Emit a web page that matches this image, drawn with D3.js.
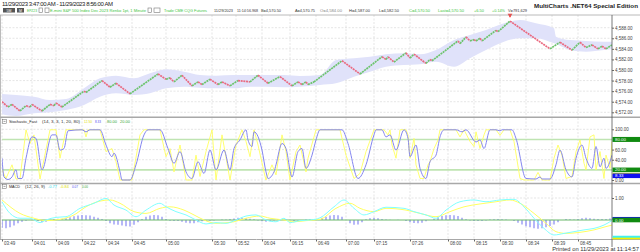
<!DOCTYPE html>
<html><head><meta charset="utf-8">
<script src="https://cdn.jsdelivr.net/npm/d3@7"></script>
<style>body{margin:0;background:#fff}svg{display:block}text{font-family:"Liberation Sans",Arial,sans-serif}</style>
</head><body><svg id="c" width="640" height="252"></svg>
<script>
// ---------- DATA ----------
const tickIdx = [0,15,27,40,52,65,82,105,117,130,144,157,172,186,204,223,236,249,262,275,288];
const tickLabels = ["03:49","04:01","04:09","04:22","04:34","04:45","05:00","05:30","05:52","06:04","06:15","06:49","07:00","07:15","07:26","08:00","08:15","08:30","08:34","08:39","08:45"];
const priceTicks = [4572,4574,4576,4578,4580,4582,4584,4586,4588];
// renko turning points: bar index, price
const renkoIdx = [0,3,5,9,12,14,15,20,24,26,27,30,41,42,50,54,57,64,78,82,84,86,90,95,98,100,104,108,110,114,118,124,128,133,139,145,148,150,152,153,156,170,179,190,192,193,196,202,204,206,212,214,215,228,229,232,234,236,237,239,240,247,248,254,274,279,285,289,292,295,298,300,302,305];
const renkoPx = [4574,4573,4573.5,4572.25,4573.25,4573,4573.5,4572.25,4573.5,4573.25,4573.75,4573,4576,4575.75,4578,4576.75,4577.5,4575.5,4579.25,4578.25,4578.5,4577.75,4579,4577,4577.75,4577.25,4578.25,4577.25,4577.75,4577,4578,4577.75,4579,4577.5,4578.75,4577,4577.75,4577.25,4577.75,4577.25,4577.75,4581.75,4579.25,4582.5,4582,4582.5,4581.5,4583.25,4582.25,4583,4581.25,4582,4581.75,4585.5,4585,4586.25,4585.5,4585.75,4585.5,4586,4585.5,4587.5,4587.25,4589.25,4584,4585.25,4583.75,4585.25,4584.25,4584.75,4584,4584.5,4584,4584.75];
// envelope band
const bandIdx = [0,7,16,24,32,41,49,57,66,74,82,91,99,107,116,124,132,141,149,159,167,176,184,192,201,209,217,226,234,242,251,259,267,276,277,284,292,301,305];
const bandUpper = [4575.47,4575.28,4574.96,4574.34,4574.5,4576.54,4578.43,4578.93,4578.43,4579.38,4580.14,4579.68,4579.06,4578.93,4579.06,4579.06,4579.06,4579.06,4578.87,4579.06,4581.89,4582.22,4582.52,4582.97,4583.16,4582.97,4583.78,4585.67,4586.62,4587.57,4588.83,4589.46,4588.83,4587.89,4586.3,4585.67,4585.49,4585.35,4585.35];
const bandLower = [4571.63,4571.3,4571.82,4572.0,4572.44,4573.39,4574.96,4575.6,4575.28,4575.6,4576.54,4576.85,4576.66,4576.54,4576.54,4576.85,4576.85,4576.73,4576.85,4577.17,4577.49,4578.74,4579.68,4580.63,4580.95,4581.08,4581.57,4580.63,4582.22,4583.78,4585.35,4586.0,4586.0,4585.05,4584.92,4583.78,4583.46,4583.78,4583.97];
// stochastic %D (blue)
const stoDIdx = [0,1,3,5,7,8,10,12,15,17,20,25,27,29,31,33,40,42,44,49,52,55,56,59,60,64,67,71,73,79,83,86,89,92,95,98,101,104,107,111,114,116,119,122,123,125,126,130,132,133,136,137,140,142,145,148,150,152,155,157,159,170,173,178,182,186,187,190,192,194,197,201,203,204,207,209,212,214,217,219,221,227,230,232,237,239,241,244,247,249,250,255,257,262,267,269,270,274,277,279,282,285,287,290,292,295,297,299,301,302,305];
const stoD = [43,6,1,6,20,3,3,43,85,82,20,89,89,59,62,97,99,95,99,99,69,46,53,16,0,0,30,89,99,99,62,33,56,16,3,36,13,59,20,59,20,62,79,99,79,66,95,59,16,3,16,30,72,62,6,56,62,23,49,79,99,99,72,3,30,89,99,99,85,89,59,99,82,46,69,23,3,36,49,85,99,99,95,99,75,79,62,99,99,97,99,99,82,3,2,6,2,2,30,59,20,6,43,69,43,23,66,26,43,23,49];
// stochastic %K (yellow)
const stoKIdx = [0,2,5,7,9,12,14,16,19,24,27,29,32,41,42,43,49,52,55,57,59,65,69,71,79,82,84,86,89,92,95,97,99,102,105,107,110,114,117,120,122,124,126,128,131,132,135,137,140,142,144,147,149,152,153,157,169,172,176,179,182,186,191,193,194,195,197,199,202,203,204,206,207,209,211,213,214,216,218,219,227,229,231,234,236,237,239,241,242,247,249,251,254,256,259,261,266,268,270,274,276,278,280,282,285,287,289,291,292,294,296,297,299,301,302,304,305];
const stoK = [20,3,30,2,3,99,72,89,2,99,99,43,99,99,85,99,99,56,62,36,0,0,89,99,99,46,62,16,69,0,0,49,7,56,99,0,89,0,69,99,76,46,99,69,16,0,30,10,89,56,0,56,69,16,43,99,99,49,3,13,56,99,99,89,99,69,43,99,99,89,43,82,30,3,3,30,36,62,79,99,99,85,99,76,66,95,62,89,99,99,88,99,99,76,3,0,0,15,0,0,43,69,49,3,7,56,79,33,20,85,89,20,56,3,49,23,76];
// MACD line (cyan) and signal (yellow)
const macdIdx = [0,4,9,14,19,22,27,32,39,46,52,56,62,67,72,79,82,87,92,97,102,107,112,117,122,127,132,137,141,144,149,154,159,166,171,176,181,186,192,201,206,212,217,222,229,236,242,249,256,261,266,271,276,281,286,291,296,301,305];
const macdVal = [0.83,0.3,0.08,0.08,-0.12,0.0,0.12,0.15,0.53,0.76,0.98,0.68,0.45,0.15,0.45,0.76,0.6,0.38,0.23,0.0,-0.18,-0.12,-0.15,0.0,0.18,0.23,0.0,-0.08,0.08,-0.12,-0.03,0.0,0.1,0.6,0.91,0.53,0.23,0.38,0.58,0.53,0.38,0.23,0.08,0.45,0.83,0.91,0.83,0.91,0.94,0.6,0.08,-0.38,-0.68,-0.61,-0.53,-0.45,-0.38,-0.23,-0.02];
const sigIdx = [0,9,16,22,29,36,42,49,54,59,66,72,79,84,91,96,101,107,116,122,129,134,141,146,152,159,167,174,179,186,192,202,209,217,224,231,239,247,254,259,266,272,277,282,289,296,302,305];
const sigVal = [0.91,0.3,0.08,-0.03,0.03,0.23,0.6,0.86,0.91,0.76,0.38,0.3,0.53,0.6,0.45,0.23,0.0,-0.15,-0.08,0.08,0.18,0.08,0.0,-0.08,-0.03,0.03,0.53,0.76,0.53,0.38,0.53,0.45,0.3,0.15,0.38,0.6,0.73,0.83,0.91,0.76,0.3,-0.15,-0.53,-0.61,-0.56,-0.45,-0.3,-0.23];
// MACD histogram, one bar every 2 bar indices starting at 0
const histVal = [-0.35,-0.38,-0.33,-0.25,-0.15,-0.08,-0.03,0.0,0.02,-0.05,-0.1,-0.08,-0.02,0.04,0.06,0.05,0.08,0.12,0.17,0.2,0.23,0.22,0.2,0.15,0.1,0.04,-0.05,-0.15,-0.2,-0.22,-0.25,-0.28,-0.3,-0.22,-0.1,0.05,0.15,0.2,0.23,0.22,0.15,0.05,-0.03,-0.04,-0.05,-0.08,-0.12,-0.15,-0.15,-0.1,-0.06,-0.04,-0.03,-0.02,0.0,0.02,0.02,0.04,0.07,0.1,0.1,0.08,0.06,0.03,-0.02,-0.06,-0.08,-0.06,-0.02,0.03,0.05,0.04,0.0,-0.04,-0.03,0.0,0.02,0.03,0.02,0.04,0.1,0.15,0.2,0.23,0.22,0.15,0.0,-0.15,-0.22,-0.2,-0.1,0.03,0.08,0.1,0.08,0.04,0.02,0.01,0.0,0.01,0.0,-0.05,-0.1,-0.14,-0.15,-0.12,-0.06,0.0,0.06,0.12,0.18,0.22,0.23,0.22,0.18,0.1,0.03,-0.02,-0.04,-0.05,-0.04,-0.02,0.02,0.03,0.04,0.03,0.02,0.0,-0.05,-0.12,-0.2,-0.28,-0.33,-0.38,-0.4,-0.38,-0.33,-0.27,-0.2,-0.1,0.0,0.04,0.03,0.02,0.05,0.08,0.1,0.08,0.06,0.05,0.04,0.05,0.07];
const peakIdx = 254, peakPx = 4589.25;

// ---------- LAYOUT ----------
const svg = d3.select("#c");
const L = 2, R = 612;
const P1 = {t:15, b:117}, P2 = {t:118, b:183}, P3 = {t:184, b:239.5};
const x = d3.scaleLinear().domain([0,305]).range([L,R]);
const yP = d3.scaleLinear().domain([4572,4588]).range([112.3,27.7]);
const yS = d3.scaleLinear().domain([0,100]).range([180,129.3]);
const yM = d3.scaleLinear().domain([0,1]).range([220,198]);
const zip = (a,b)=>a.map((v,i)=>[v,b[i]]);

const defs = svg.append("defs");
[["c1",P1],["c2",P2],["c3",P3]].forEach(([id,p])=>{
  defs.append("clipPath").attr("id",id).append("rect").attr("x",L).attr("y",p.t).attr("width",R-L).attr("height",p.b-p.t);
});

// ---------- HEADER ----------
svg.append("text").attr("x",2).attr("y",6).attr("font-size",6).attr("fill","#222")
  .attr("textLength",111).text("11/29/2023 3:47:00 AM - 11/29/2023 8:56:00 AM");
svg.append("text").attr("x",638).attr("y",8).attr("text-anchor","end").attr("font-size",6).attr("font-weight","bold")
  .attr("fill","#222").attr("textLength",104).attr("lengthAdjust","spacingAndGlyphs").text("MultiCharts .NET64 Special Edition");
svg.append("rect").attr("x",3).attr("y",8).attr("width",12).attr("height",4.5).attr("fill","#555");
svg.append("rect").attr("x",17).attr("y",8).attr("width",7).attr("height",4.5).attr("fill","#555");
svg.append("text").attr("x",9).attr("y",11.7).attr("text-anchor","middle").attr("font-size",3.5).attr("fill","#fff").text("5M");
svg.append("text").attr("x",20.5).attr("y",11.7).attr("text-anchor","middle").attr("font-size",3.5).attr("fill","#fff").text("M");
[[39,3.5],[45,4],[148,3.5],[154,6]].forEach(([bx,bw])=>svg.append("rect").attr("x",bx).attr("y",8).attr("width",bw).attr("height",4.5).attr("fill","#fff").attr("stroke","#777").attr("stroke-width",0.6));
const info = [
  [27,10,"EPZ23","#3cc43c"],
  [50,96,"E-mini S&P 500 Index Dec 2023  Renko 1pt, 1 Minute","#3cc43c"],
  [164,43,"Trade  CME  CQG  Futures","#3cc43c"],
  [214,19,"11/29/2023","#333"],
  [237,21,"11:14:56.968","#333"],
  [261,20,"B=4,570.50","#333"],
  [295,20,"A=4,570.75","#333"],
  [320,22,"O=4,584.00","#888"],
  [349,21,"H=4,587.00","#333"],
  [379,20,"L=4,582.50","#333"],
  [409,21,"C=4,570.50","#3cc43c"],
  [438,26,"Last=4,570.50","#3cc43c"],
  [474,10,"+6.50","#3cc43c"],
  [492,13,"+0.14%","#3cc43c"],
  [508,19,"V=791,629","#333"]
];
info.forEach(([ix,w,t,c])=>svg.append("text").attr("x",ix).attr("y",12).attr("font-size",4.3).attr("fill",c).attr("textLength",w).attr("lengthAdjust","spacingAndGlyphs").text(t));

// ---------- GRID ----------
const grid = svg.append("g").attr("stroke","#d4d4d4").attr("stroke-width",0.6).attr("stroke-dasharray","2,1.5");
tickIdx.forEach(i=>{
  [P1,P2,P3].forEach(p=>grid.append("line").attr("x1",x(i)).attr("x2",x(i)).attr("y1",p.t).attr("y2",p.b));
});
priceTicks.forEach(v=>grid.append("line").attr("x1",L).attr("x2",R).attr("y1",yP(v)).attr("y2",yP(v)));
[100,60,40,0].forEach(v=>grid.append("line").attr("x1",L).attr("x2",R).attr("y1",yS(v)).attr("y2",yS(v)));
[1].forEach(v=>grid.append("line").attr("x1",L).attr("x2",R).attr("y1",yM(v)).attr("y2",yM(v)));

// ---------- MAIN PANEL ----------
const g1 = svg.append("g").attr("clip-path","url(#c1)");
const bandData = bandIdx.map((b,i)=>({i:b,u:bandUpper[i],l:bandLower[i]}));
g1.append("path").datum(bandData)
  .attr("d",d3.area().x(d=>x(d.i)).y0(d=>yP(d.l)).y1(d=>yP(d.u)).curve(d3.curveMonotoneX))
  .attr("fill","#e0e2fa");
const rk = zip(renkoIdx,renkoPx);
for(let k=1;k<rk.length;k++){
  const a=rk[k-1], b=rk[k];
  g1.append("line").attr("x1",x(a[0])).attr("y1",yP(a[1])).attr("x2",x(b[0])).attr("y2",yP(b[1]))
    .attr("stroke", b[1]>a[1] ? "#6cc46c" : "#ea6a80").attr("stroke-width",1.7).attr("stroke-dasharray","2,0.7");
}
svg.append("path").attr("d",d3.symbol(d3.symbolTriangle,10)())
  .attr("transform",`translate(${x(peakIdx)},${yP(peakPx)-6}) rotate(180)`).attr("fill","#ff2020");

// ---------- STOCHASTIC ----------
const g2 = svg.append("g").attr("clip-path","url(#c2)");
[80,20].forEach(v=>g2.append("line").attr("x1",L).attr("x2",R).attr("y1",yS(v)).attr("y2",yS(v)).attr("stroke","#bfe4b2").attr("stroke-width",1.6));
g2.append("path").datum(zip(stoKIdx,stoK)).attr("d",d3.line().x(d=>x(d[0])).y(d=>yS(d[1])))
  .attr("fill","none").attr("stroke","#ffff60").attr("stroke-width",0.9);
g2.append("path").datum(zip(stoDIdx,stoD)).attr("d",d3.line().x(d=>x(d[0])).y(d=>yS(d[1])).curve(d3.curveMonotoneX))
  .attr("fill","none").attr("stroke","#8486f0").attr("stroke-width",1);

// ---------- MACD ----------
const g3 = svg.append("g").attr("clip-path","url(#c3)");
histVal.forEach((v,k)=>{
  const i=k*2;
  g3.append("line").attr("x1",x(i)).attr("x2",x(i)).attr("y1",yM(0)).attr("y2",yM(v)).attr("stroke","#7a7cf0").attr("stroke-width",1.1);
});
g3.append("line").attr("x1",L).attr("x2",R).attr("y1",yM(0)).attr("y2",yM(0)).attr("stroke","#6ab86a").attr("stroke-width",1);
g3.append("path").datum(zip(sigIdx,sigVal)).attr("d",d3.line().x(d=>x(d[0])).y(d=>yM(d[1])).curve(d3.curveMonotoneX))
  .attr("fill","none").attr("stroke","#ffff60").attr("stroke-width",1);
g3.append("path").datum(zip(macdIdx,macdVal)).attr("d",d3.line().x(d=>x(d[0])).y(d=>yM(d[1])).curve(d3.curveMonotoneX))
  .attr("fill","none").attr("stroke","#80ffff").attr("stroke-width",1);

// ---------- PANEL BORDERS ----------
const br = svg.append("g").attr("stroke","#a8a8a8");
[[15,0.8],[117.3,1.6],[183.5,1.6],[239.5,1]].forEach(([yy,w])=>br.append("line").attr("x1",0).attr("x2",640).attr("y1",yy).attr("y2",yy).attr("stroke-width",w));
svg.append("line").attr("x1",612).attr("x2",612).attr("y1",15).attr("y2",247).attr("stroke","#555").attr("stroke-width",0.8);
svg.append("line").attr("x1",0.5).attr("x2",0.5).attr("y1",15).attr("y2",240).attr("stroke","#aaa").attr("stroke-width",0.8);

// ---------- AXES ----------
const axP = svg.append("g").attr("transform",`translate(${R},0)`)
  .call(d3.axisRight(yP).tickValues(priceTicks).tickSize(2).tickFormat(d3.format(",.2f")));
const axS = svg.append("g").attr("transform",`translate(${R},0)`)
  .call(d3.axisRight(yS).tickValues([100,60,40,0]).tickSize(2).tickFormat(d3.format(".2f")));
const axM = svg.append("g").attr("transform",`translate(${R},0)`)
  .call(d3.axisRight(yM).tickValues([1]).tickSize(2).tickFormat(d3.format(".2f")));
const axX = svg.append("g").attr("transform",`translate(0,239.5)`)
  .call(d3.axisBottom(x).tickValues(tickIdx).tickSize(2).tickFormat((d,i)=>tickLabels[i]));
[axP,axS,axM,axX].forEach(a=>{a.select(".domain").remove(); a.selectAll("line").attr("stroke","#666");
  a.selectAll("text").attr("font-size",4.5).attr("fill","#444").attr("font-family","Liberation Sans, Arial");});
[axP,axS,axM].forEach(a=>a.selectAll("text").attr("x",3));
axX.selectAll("text").attr("text-anchor","start").attr("dx",1.5).attr("y",2.3);

function box(v,scale,fill,txt,h,tc){
  const yy=scale(v);
  svg.append("rect").attr("x",612.5).attr("y",yy-h/2).attr("width",27.5).attr("height",h).attr("fill",fill);
  if(txt) svg.append("text").attr("x",615).attr("y",yy+1.6).attr("font-size",4.4).attr("fill",tc||"#fff").text(txt);
}
box(80,yS,"#108a10","80.00",5);
box(20,yS,"#108a10","20.00",4.6);
box(12.5,yS,"#f0f000",null,1.6);
box(8.33,yS,"#1010f0","8.33",4.6);
box(0.07,yM,"#1010e0",null,3);
box(0,yM,"#108a10","0.00",4.6);
box(-0.77,yM,"#40f0f0",null,2.4);
box(-0.84,yM,"#f0f000",null,1.6);

// ---------- PANEL LABELS ----------
function label(yy,parts){
  svg.append("rect").attr("x",2.5).attr("y",yy-3.6).attr("width",4).attr("height",4).attr("fill","#fff").attr("stroke","#666").attr("stroke-width",0.5);
  svg.append("line").attr("x1",3.5).attr("x2",5.5).attr("y1",yy-1.6).attr("y2",yy-1.6).attr("stroke","#444").attr("stroke-width",0.5);
  parts.forEach(([px,w,t,c])=>svg.append("text").attr("x",px).attr("y",yy).attr("font-size",4.4).attr("fill",c)
    .attr("textLength",w).attr("lengthAdjust","spacingAndGlyphs").text(t));
}
label(123,[[9,28,"Stochastic_Fast","#222"],[42,38,"(14, 3, 3, 1, 20, 80)","#333"],[84,8,"12.50","#e0e000"],[95,6,"8.33","#5050f0"],[107,10,"80.00","#3aa83a"],[120,10,"20.00","#3aa83a"]]);
label(188,[[9,11,"MACD","#222"],[25,20,"(12, 26, 9)","#333"],[48,9,"-0.77","#30d8e8"],[60,9,"-0.84","#e0e000"],[72,6,"0.07","#5050f0"],[82,6,"0.00","#3aa83a"]]);

svg.append("text").attr("x",639).attr("y",251).attr("text-anchor","end").attr("font-size",5.8).attr("fill","#333")
  .text("Printed on 11/29/2023 at 11:14:57");
</script></body></html>
